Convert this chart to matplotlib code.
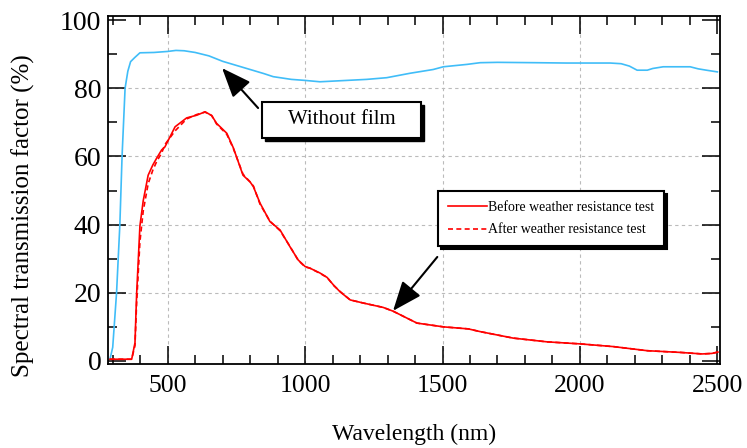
import matplotlib
matplotlib.use('Agg')
import matplotlib.pyplot as plt
import matplotlib.transforms as mtransforms
from matplotlib.patches import Rectangle
from matplotlib.ticker import MultipleLocator

plt.rcParams['font.family'] = ['Liberation Serif', 'DejaVu Serif']

# Without film (blue)
wl_blue = [290, 300, 314, 326, 334, 345, 355, 365, 380, 399, 450, 500, 530, 560, 600,
           650, 700, 750, 800, 850, 884, 950, 1000, 1054, 1127, 1224, 1297, 1382, 1466,
           1503, 1589, 1637, 1700, 1837, 1950, 2110, 2150, 2180, 2208, 2245, 2265, 2303,
           2401, 2430, 2460, 2500]
t_blue = [0.5, 4, 20, 40, 60, 80, 85, 87.8, 89.0, 90.4, 90.5, 90.8, 91.1, 91.0, 90.5,
          89.5, 87.9, 86.7, 85.5, 84.3, 83.4, 82.6, 82.3, 81.9, 82.2, 82.6, 83.1, 84.4, 85.5,
          86.3, 87.0, 87.5, 87.6, 87.5, 87.4, 87.4, 87.2, 86.5, 85.3, 85.3, 85.8, 86.3,
          86.3, 85.7, 85.3, 84.8]

# With film, before / after weather resistance test (red)
wl_red = [290, 369, 381, 387, 399, 411, 429, 446, 460, 478, 490, 527, 569, 606, 636, 660,
          678, 715, 739, 774, 800, 812, 836, 872, 909, 945, 975, 1000, 1018, 1054, 1080,
          1103, 1127, 1164, 1211, 1284, 1320, 1407, 1503, 1594, 1637, 1757, 1880, 2001,
          2122, 2245, 2365, 2445, 2480, 2502]
t_before = [0.5, 0.5, 5.3, 19.6, 39.6, 47, 54.5, 57.5, 59.5, 61.9, 62.8, 68.7, 71.3, 72.1,
            73.1, 72, 69.7, 66.8, 62.5, 54.5, 52.5, 51.1, 46.3, 40.9, 38.4, 33.5, 29.6,
            27.7, 27.2, 25.8, 24.5, 22.3, 20.3, 17.9, 17.0, 15.7, 14.6, 11.1, 10.0, 9.4,
            8.6, 6.7, 5.6, 5.0, 4.2, 3.0, 2.5, 2.05, 2.2, 2.6]
t_after = [0.5, 0.5, 4.5, 17.0, 35.0, 44.0, 52.0, 56.0, 58.5, 61.0, 63.5, 67.5, 71.0, 72.3,
           73.0, 72, 69.5, 66.5, 62.3, 54.8, 52.5, 51.3, 46.0, 41.0, 38.2, 33.6, 29.5,
           27.6, 27.2, 25.7, 24.5, 22.2, 20.4, 17.9, 17.0, 15.7, 14.6, 11.1, 10.0, 9.4,
           8.6, 6.7, 5.6, 5.0, 4.2, 3.0, 2.5, 2.05, 2.2, 2.6]

# inner grid positions
grid_x = [500, 1000, 1500, 2000]
grid_y = [20, 40, 60, 80]

fig = plt.figure(figsize=(7.47, 4.48), dpi=100)
ax = fig.add_axes([0.145, 0.1875, 0.819, 0.7768])

for gx in grid_x:
    ax.axvline(gx, color='#bbbbbb', ls=(0, (3, 3)), lw=0.8, zorder=0)
for gy in grid_y:
    ax.axhline(gy, color='#bbbbbb', ls=(0, (3, 3)), lw=0.8, zorder=0)

ax.plot(wl_blue, t_blue, color='#40bdf8', lw=1.2)
ax.plot(wl_red, t_before, color='red', lw=1.2, label='Before weather resistance test')
ax.plot(wl_red, t_after, color='red', lw=1.2, ls=(0, (3, 2)),
        label='After weather resistance test')

ax.set_xlim(284, 2510)
ax.set_ylim(-0.9, 101.2)
ax.xaxis.set_major_locator(MultipleLocator(500))
ax.xaxis.set_minor_locator(MultipleLocator(100))
ax.yaxis.set_major_locator(MultipleLocator(20))
ax.yaxis.set_minor_locator(MultipleLocator(10))
ax.tick_params(which='both', direction='in', top=True, right=True, width=1.1)
ax.tick_params(which='major', length=13)
ax.tick_params(which='minor', length=6.5)
ax.tick_params(axis='x', pad=8, labelsize=18.5)
ax.tick_params(axis='y', pad=5, labelsize=20)
for s in ax.spines.values():
    s.set_linewidth(1.3)

ax.set_xlabel('Wavelength (nm)', fontsize=17, labelpad=19)
ax.set_ylabel('Spectral transmission factor (%)', fontsize=18)
ax.yaxis.set_label_coords(-0.12, 0.425)

leg = ax.legend(loc='upper left', bbox_to_anchor=(0.539, 0.497), fontsize=10,
                frameon=True, fancybox=False, edgecolor='k', framealpha=1,
                shadow={'color': 'k', 'alpha': 1}, handlelength=2.8, handletextpad=0.1,
                labelspacing=0.7, borderpad=0.7, borderaxespad=0)
leg.get_frame().set_linewidth(1.5)

# "Without film" label box with shadow
shadow_tr = mtransforms.offset_copy(ax.transAxes, fig=fig, x=2.2, y=-2.2, units='points')
ax.add_patch(Rectangle((0.2513, 0.6494), 0.2599, 0.1035, transform=shadow_tr,
                       facecolor='k', edgecolor='k', zorder=5))
ax.add_patch(Rectangle((0.2513, 0.6494), 0.2599, 0.1035, transform=ax.transAxes,
                       facecolor='white', edgecolor='k', lw=1.5, zorder=6))
ax.text(0.3812, 0.7012, 'Without film', transform=ax.transAxes, ha='center', va='center',
        fontsize=15, zorder=7)

arrow = dict(arrowstyle='-|>,head_length=0.55,head_width=0.22', mutation_scale=33,
             lw=1.5, color='k', shrinkA=0, shrinkB=0)
ax.annotate('', xy=(698, 85.9), xytext=(829, 74.2), arrowprops=arrow, zorder=8)
ax.annotate('', xy=(1320, 14.7), xytext=(1481, 30.5), arrowprops=arrow, zorder=8)

fig.savefig('out.png', dpi=100)
